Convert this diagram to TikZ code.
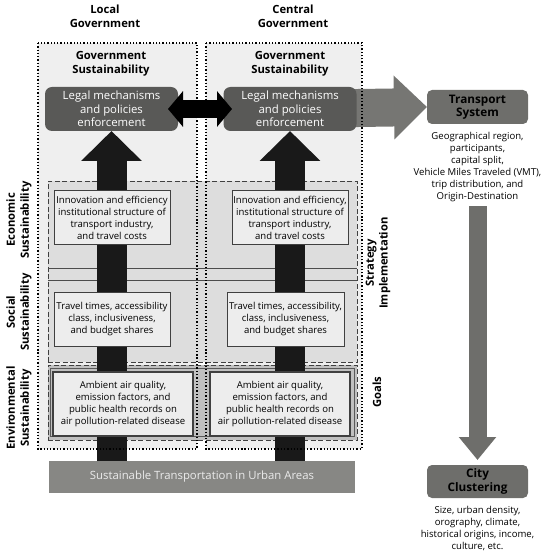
\documentclass[tikz,border=0pt]{standalone}
\usepackage{fontspec}
\setmainfont{Open Sans}
\setsansfont{Open Sans}
\usetikzlibrary{positioning, arrows.meta}
\definecolor{panelfill}{RGB}{239,239,239}
\definecolor{bandfill}{RGB}{221,221,221}
\definecolor{envfill}{RGB}{192,192,192}
\definecolor{factorfill}{RGB}{237,237,237}
\definecolor{legalfill}{RGB}{89,89,87}
\definecolor{sysfill}{RGB}{110,110,107}
\definecolor{arrowgray}{RGB}{118,118,115}
\definecolor{bargray}{RGB}{135,135,132}
\tikzset{
    x=1bp, y=-1bp, % pixel units, y grows downwards
    every node/.style={inner sep=0pt, outer sep=0pt},
}

\begin{document}
\begin{tikzpicture}[
    node distance=6bp,
    % Dotted government panels
    govpanel/.style={fill=panelfill, minimum height=406bp},
    govline/.style={dotted, line width=1.3bp},
    % Dashed sustainability bands
    band/.style={fill=bandfill, draw=black!75, dash pattern=on 5bp off 2.5bp,
        line width=0.9bp, minimum width=309bp},
    factor/.style={fill=factorfill, draw=black!75, line width=1bp, align=center,
        font=\fontsize{9.6}{12}\selectfont},
    legalbox/.style={fill=legalfill, rounded corners=7bp, text=white, align=center,
        minimum width=133bp, minimum height=44bp, font=\fontsize{11.4}{13.5}\selectfont},
    sysbox/.style={fill=sysfill, rounded corners=5bp, align=center, minimum width=101bp,
        font=\bfseries\fontsize{11.8}{13.5}\selectfont},
    heading/.style={align=center, font=\bfseries\fontsize{11.3}{14}\selectfont},
    sidelabel/.style={heading, rotate=90},
    note/.style={align=center, font=\fontsize{9.6}{12}\selectfont},
    % Arrows
    uparrow/.style={draw=black!90, line width=30bp, -{Triangle[length=30bp, width=59bp]}},
    twoway/.style={draw=black, line width=18bp,
        {Triangle[length=15bp, width=35bp]}-{Triangle[length=15bp, width=35bp]}},
    bigarrow/.style={draw=arrowgray, line width=38bp, -{Triangle[length=33bp, width=62bp]}},
    downarrow/.style={draw=sysfill, line width=18bp, -{Triangle[length=23bp, width=36bp]}},
]
\useasboundingbox (0,0) rectangle (550,555);

% --- Titles ---
\node[heading] (localTitle) at (105,16) {Local\\Government};
\node[heading] (centralTitle) at (293,16) {Central\\Government};

% --- Government panels (fill only, borders last) ---
\node[govpanel, minimum width=159bp] (localGov) at (117.5,246) {};
\node[govpanel, minimum width=156bp] (centralGov) at (284,246) {};

% --- Sustainability bands ---
\node[band, minimum height=181bp] (ecoSoc) at (202.5,271.5) {};
\draw[black!70, line width=0.9bp] (ecoSoc.west |- 0,268) -- (ecoSoc.east |- 0,268);
\draw[black!70, line width=0.9bp] (ecoSoc.west |- 0,280) -- (ecoSoc.east |- 0,280);
\node[band, fill=envfill, minimum height=75bp] (envBand) at (202.5,402.5) {};
\node[draw=black!65, line width=1.2bp, minimum width=304bp, minimum height=68bp] (envFrame) at (envBand) {};

% --- Sustainability headings ---
\node[heading] (govSusL) at (111,64) {Government\\Sustainability};
\node[heading] (govSusR) at (290,64) {Government\\Sustainability};

% --- Transport system and city clustering ---
\node[sysbox, minimum height=34bp] (transport) at (477.5,107) {Transport\\System};
\node[note, below=8bp of transport] (transDesc) {Geographical region,\\participants,\\capital split,\\Vehicle Miles Traveled (VMT),\\trip distribution, and\\Origin-Destination};
\node[sysbox, minimum height=33bp] (city) at (477.5,481.5) {City\\Clustering};
\node[note, below=8bp of city] (cityDesc) {Size, urban density,\\orography, climate,\\historical origins, income,\\culture, etc.};

% big arrow runs under the central legal box
\coordinate (hubR) at (290,109);
\draw[bigarrow] (hubR) -- (transport.west);
\draw[downarrow, shorten <=5bp, shorten >=5bp] (transDesc.south) -- (city.north);

% --- Legal mechanisms ---
\node[legalbox] (legalL) at (111.5,109) {Legal mechanisms\\and policies\\enforcement};
\node[legalbox] (legalR) at (hubR) {Legal mechanisms\\and policies\\enforcement};

% --- Base bar ---
\node[fill=bargray, text=white!92!black, minimum width=306bp, minimum height=32bp,
    font=\fontsize{11.4}{13}\selectfont] (base) at (202,477) {Sustainable Transportation in Urban Areas};

% --- Upward arrows ---
\draw[uparrow] (base.north -| legalL.south) -- (legalL.south);
\draw[uparrow] (base.north -| legalR.south) -- (legalR.south);

% --- Factors ---
\node[factor, minimum width=116bp, minimum height=53bp] (ecoL) at (112,217.5) {Innovation and efficiency\\institutional structure of\\transport industry,\\and travel costs};
\node[factor, minimum width=116bp, minimum height=53bp] (ecoR) at (290,217.5) {Innovation and efficiency,\\institutional structure of\\transport industry,\\and travel costs};
\node[factor, minimum width=116bp, minimum height=54bp] (socL) at (112,319) {Travel times, accessibility\\class, inclusiveness,\\and budget shares};
\node[factor, minimum width=117bp, minimum height=54bp] (socR) at (285.5,319) {Travel times, accessibility,\\class, inclusiveness,\\and budget shares};
\node[factor, minimum width=140bp, minimum height=64bp, line width=1.3bp] (envL) at (123,404) {Ambient air quality,\\emission factors, and\\public health records on\\air pollution-related disease};
\node[factor, minimum width=140bp, minimum height=64bp, line width=1.3bp] (envR) at (280,404) {Ambient air quality,\\emission factors, and\\public health records on\\air pollution-related disease};

% --- Local <-> central ---
\draw[twoway, shorten <=-10bp, shorten >=-8.5bp] (legalL.east) -- (legalR.west);

% --- Side labels ---
\node[sidelabel] (ecoLabel) at (19,220) {Economic\\Sustainability};
\node[sidelabel] (socLabel) at (19,312) {Social\\Sustainability};
\node[sidelabel] (envLabel) at (19,408) {Environmental\\Sustainability};
\node[sidelabel] (stratLabel) at (378,263) {Strategy\\Implementation};
\node[sidelabel] (goalLabel) at (377,392) {Goals};

% --- Dotted panel borders ---
\draw[govline] (localGov.north west) rectangle (localGov.south east);
\draw[govline] (centralGov.north west) rectangle (centralGov.south east);

\end{tikzpicture}
\end{document}
